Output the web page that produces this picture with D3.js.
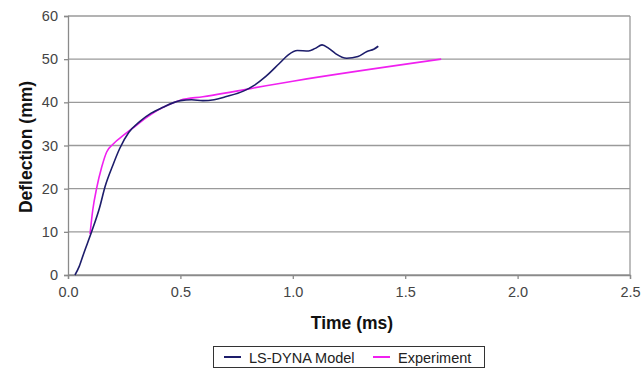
<!DOCTYPE html>
<html>
<head>
<meta charset="utf-8">
<script src="https://cdn.jsdelivr.net/npm/d3@7"></script>
<style>
  body { margin: 0; background: #fff; }
  text { font-family: "Liberation Sans", Arial, sans-serif; }
</style>
</head>
<body>
<svg id="chart" width="641" height="370"></svg>
<script>
// LS-DYNA model curve (time ms, deflection mm)
const dynaTime = [0.031, 0.05, 0.07, 0.105, 0.14, 0.165, 0.2, 0.23, 0.27, 0.32, 0.37, 0.42, 0.5, 0.55, 0.6, 0.65, 0.7, 0.78, 0.83, 0.88, 0.94, 0.98, 1.02, 1.07, 1.1, 1.13, 1.16, 1.19, 1.24, 1.29, 1.33, 1.36, 1.38];
const dynaDefl = [0, 2, 5, 10, 15.5, 20.5, 25.5, 29.3, 33, 35.6, 37.5, 38.8, 40.4, 40.6, 40.4, 40.6, 41.3, 42.6, 44, 46, 49, 51, 52, 51.9, 52.5, 53.3, 52.5, 51.3, 50.2, 50.6, 51.8, 52.3, 53];

// Experiment curve
const expTime = [0.098, 0.11, 0.127, 0.15, 0.172, 0.2, 0.25, 0.3, 0.35, 0.4, 0.45, 0.5, 0.6, 1.0, 1.66];
const expDefl = [9.5, 15, 20, 25, 28.5, 30.3, 32.5, 34.5, 36.5, 38.2, 39.5, 40.5, 41.3, 44.9, 50];

const xTicks = [0, 0.5, 1.0, 1.5, 2.0, 2.5];
const yTicks = [0, 10, 20, 30, 40, 50, 60];

const svg = d3.select("#chart");
const plotLeft = 68, plotRight = 630, plotTop = 16, plotBottom = 275;

const x = d3.scaleLinear().domain([0, 2.5]).range([plotLeft, plotRight]);
const y = d3.scaleLinear().domain([0, 60]).range([plotBottom, plotTop]);

// gridlines
svg.append("g")
  .selectAll("line")
  .data(yTicks)
  .join("line")
  .attr("x1", plotLeft).attr("x2", plotRight)
  .attr("y1", d => y(d)).attr("y2", d => y(d))
  .attr("stroke", "#9a9a9a")
  .attr("stroke-width", 1.3);

// right border
svg.append("line")
  .attr("x1", plotRight).attr("x2", plotRight)
  .attr("y1", plotTop).attr("y2", plotBottom)
  .attr("stroke", "#9a9a9a").attr("stroke-width", 1.3);

// axes
const xAxis = svg.append("g")
  .attr("transform", `translate(0,${plotBottom})`)
  .call(d3.axisBottom(x).tickValues(xTicks).tickFormat(d3.format(".1f")).tickSize(4).tickPadding(8));
const yAxis = svg.append("g")
  .attr("transform", `translate(${plotLeft},0)`)
  .call(d3.axisLeft(y).tickValues(yTicks).tickSize(4).tickPadding(6));

[xAxis, yAxis].forEach(a => {
  a.select(".domain").attr("stroke", "#8a8a8a").attr("stroke-width", 1.3);
  a.selectAll(".tick line").attr("stroke", "#8a8a8a").attr("stroke-width", 1.3);
  a.selectAll(".tick text")
    .attr("fill", "#444")
    .style("font-family", "'Liberation Sans', Arial, sans-serif")
    .style("font-size", "14.5px");
});

// axis titles
svg.append("text")
  .attr("x", 352).attr("y", 329)
  .attr("text-anchor", "middle")
  .style("font-size", "17.5px").style("font-weight", "bold")
  .attr("fill", "#111")
  .text("Time (ms)");

svg.append("text")
  .attr("transform", "translate(32,147) rotate(-90)")
  .attr("text-anchor", "middle")
  .style("font-size", "17.5px").style("font-weight", "bold")
  .attr("fill", "#111")
  .text("Deflection (mm)");

// curves
const line = d3.line()
  .x(d => x(d[0]))
  .y(d => y(d[1]))
  .curve(d3.curveMonotoneX);

const expData = expTime.map((t, i) => [t, expDefl[i]]);
const dynaData = dynaTime.map((t, i) => [t, dynaDefl[i]]);

svg.append("path")
  .datum(expData)
  .attr("d", line)
  .attr("fill", "none")
  .attr("stroke", "#f020f0")
  .attr("stroke-width", 1.6);

svg.append("path")
  .datum(dynaData)
  .attr("d", line)
  .attr("fill", "none")
  .attr("stroke", "#1d1d6b")
  .attr("stroke-width", 1.6);

// legend
const legend = svg.append("g");
legend.append("rect")
  .attr("x", 213.5).attr("y", 346.5)
  .attr("width", 271).attr("height", 21)
  .attr("fill", "#fff")
  .attr("stroke", "#333").attr("stroke-width", 1);

const items = [
  { name: "LS-DYNA Model", color: "#1d1d6b", lx: 224, tx: 249 },
  { name: "Experiment", color: "#f020f0", lx: 373, tx: 398 }
];
items.forEach(it => {
  legend.append("line")
    .attr("x1", it.lx).attr("x2", it.lx + 17)
    .attr("y1", 357).attr("y2", 357)
    .attr("stroke", it.color).attr("stroke-width", 2);
  legend.append("text")
    .attr("x", it.tx).attr("y", 362.5)
    .style("font-size", "14.5px")
    .attr("fill", "#222")
    .text(it.name);
});
</script>
</body>
</html>
